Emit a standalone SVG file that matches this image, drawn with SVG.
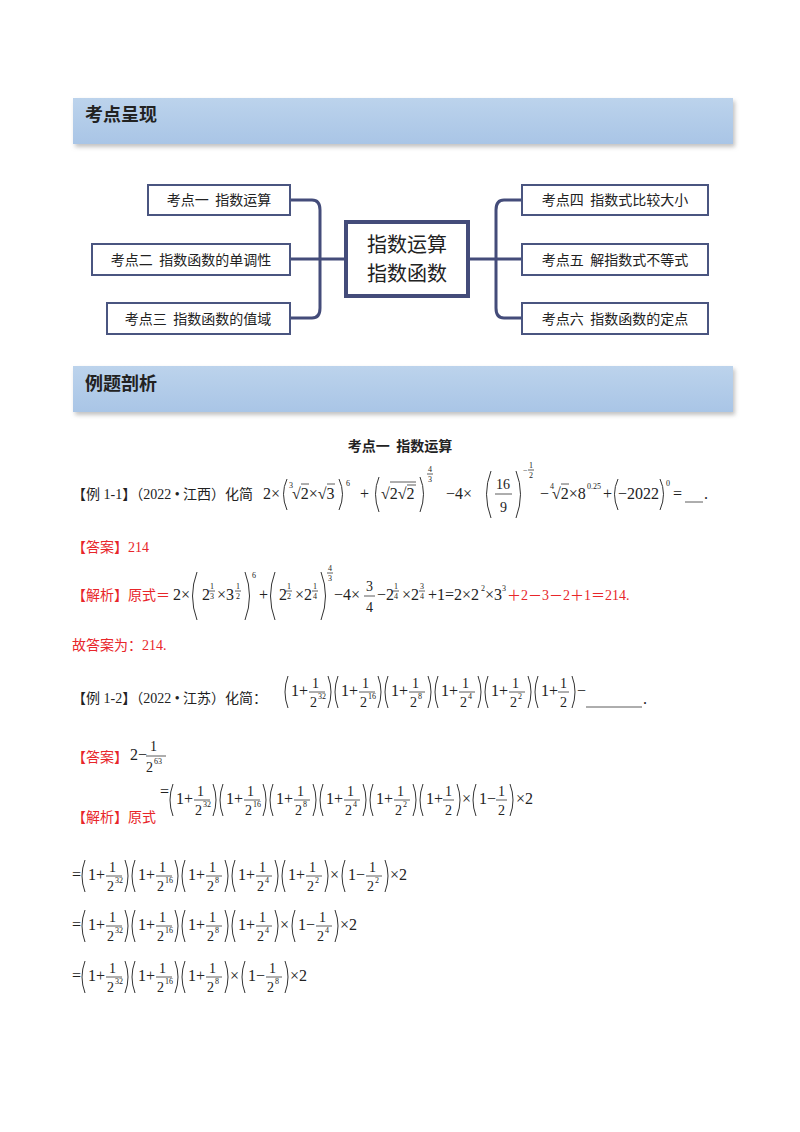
<svg xmlns="http://www.w3.org/2000/svg" xmlns:xlink="http://www.w3.org/1999/xlink" width="800" height="1132" viewBox="0 0 800 1132">
<style>
.cn{font-family:"Liberation Serif","Noto Sans CJK SC",serif;font-size:14px;fill:#222}
.b{font-family:"Noto Sans CJK SC",sans-serif;font-weight:bold}
.m{font-family:"Liberation Serif","Noto Sans CJK SC",serif;font-size:16px;fill:#222}
.s{font-family:"Liberation Serif",serif;font-size:8px;fill:#222}
.n{font-family:"Liberation Serif",serif;font-size:14px;fill:#222}
.r{fill:#e8262a}
.p{fill:none;stroke:#333;stroke-width:1}
.bar{stroke:#333;stroke-width:0.8}
.box{fill:#fff;stroke:#4a5580;stroke-width:2}
.bt{font-family:"Noto Sans CJK SC",sans-serif;font-size:14px;fill:#222;text-anchor:middle}
.ct{font-family:"Noto Sans CJK SC",sans-serif;font-size:20px;fill:#222;text-anchor:middle}
.con{fill:none;stroke:#444c7a;stroke-width:3}
</style>
<defs>
<linearGradient id="hg" x1="0" y1="0" x2="0" y2="1"><stop offset="0" stop-color="#bcd3ec"/><stop offset="1" stop-color="#a9c5e6"/></linearGradient>
<filter id="sh" x="-5%" y="-20%" width="110%" height="150%"><feDropShadow dx="2" dy="3" stdDeviation="2" flood-color="#999" flood-opacity="0.6"/></filter>
<g id="fp"><path class="p" d="M5,-20 Q-1,-4 5,12"/><text class="m" x="8" y="0">1+</text><text class="n" x="29" y="-8">1</text><line class="bar" x1="26" y1="-4" x2="42" y2="-4"/><text class="n" x="27" y="11">2</text><path class="p" d="M45,-20 Q51,-4 45,12"/></g>
<g id="fm"><path class="p" d="M5,-20 Q-1,-4 5,12"/><text class="m" x="8" y="0">1−</text><text class="n" x="29" y="-8">1</text><line class="bar" x1="26" y1="-4" x2="42" y2="-4"/><text class="n" x="27" y="11">2</text><path class="p" d="M45,-20 Q51,-4 45,12"/></g>
</defs>
<rect width="800" height="1132" fill="#fff"/>

<rect x="73" y="98" width="660" height="46" fill="url(#hg)" filter="url(#sh)"/>
<text x="85" y="121" class="b" font-size="18" fill="#222">考点呈现</text>

<g id="connectors">
<path class="con" d="M346,259 H320 M290,200 H312 Q320,200 320,210 V308 Q320,318 312,318 H290 M290,259 H320"/>
<path class="con" d="M468,259 H496 M522,200 H504 Q496,200 496,210 V308 Q496,318 504,318 H522 M522,259 H496"/>
</g>
<g id="center"><rect x="346" y="222" width="122" height="74" fill="#fff" stroke="#444c7a" stroke-width="4"/><text class="ct" x="407" y="252">指数运算</text><text class="ct" x="407" y="281">指数函数</text></g>
<g id="n1"><rect class="box" x="148" y="185" width="142" height="30"/><text class="bt" x="219" y="205" xml:space="preserve">考点一  指数运算</text></g>
<g id="n2"><rect class="box" x="92" y="244" width="198" height="31"/><text class="bt" x="191" y="265" xml:space="preserve">考点二  指数函数的单调性</text></g>
<g id="n3"><rect class="box" x="107" y="303" width="183" height="31"/><text class="bt" x="198" y="324" xml:space="preserve">考点三  指数函数的值域</text></g>
<g id="n4"><rect class="box" x="522" y="185" width="186" height="30"/><text class="bt" x="615" y="205" xml:space="preserve">考点四  指数式比较大小</text></g>
<g id="n5"><rect class="box" x="522" y="244" width="186" height="31"/><text class="bt" x="615" y="265" xml:space="preserve">考点五  解指数式不等式</text></g>
<g id="n6"><rect class="box" x="522" y="303" width="186" height="31"/><text class="bt" x="615" y="324" xml:space="preserve">考点六  指数函数的定点</text></g>

<rect x="73" y="366" width="660" height="46" fill="url(#hg)" filter="url(#sh)"/>
<text x="85" y="390" class="b" font-size="18" fill="#222">例题剖析</text>

<text x="400" y="451" class="b" font-size="14" fill="#222" text-anchor="middle" xml:space="preserve">考点一  指数运算</text>

<!-- Example 1-1 -->
<text class="cn" x="72" y="499">【例 1-1】（2022 • 江西）化简</text>
<text class="m" x="263" y="499">2×</text>
<path class="p" d="M287,479 Q280,494 287,510"/>
<text class="s" x="289" y="488">3</text>
<text class="m" x="292" y="499">√2×√3</text>
<line class="bar" x1="301" y1="484" x2="309" y2="484"/><line class="bar" x1="327" y1="484" x2="335" y2="484"/>
<path class="p" d="M339,479 Q346,494 339,510"/>
<text class="s" x="346" y="486">6</text>
<text class="m" x="360" y="499">+</text>
<path class="p" d="M379,477 Q372,494 379,512"/>
<text class="m" x="381" y="499">√2√2</text>
<line class="bar" x1="390" y1="482" x2="416" y2="482"/><line class="bar" x1="407" y1="485" x2="416" y2="485"/>
<path class="p" d="M420,477 Q427,494 420,512"/>
<text class="s" x="428" y="472">4</text><line class="bar" x1="427" y1="474" x2="433" y2="474"/><text class="s" x="428" y="482">3</text>
<text class="m" x="446" y="499">−4×</text>
<path class="p" d="M491,471 Q482,494 491,518"/>
<text class="n" x="496" y="489">16</text><line class="bar" x1="495" y1="494" x2="512" y2="494"/><text class="n" x="500" y="512">9</text>
<path class="p" d="M516,471 Q525,494 516,518"/>
<text class="s" x="523" y="473">−</text><text class="s" x="529" y="468">1</text><line class="bar" x1="528" y1="470" x2="534" y2="470"/><text class="s" x="529" y="478">2</text>
<text class="m" x="540" y="499">−</text><text class="s" x="550" y="489">4</text><text class="m" x="552" y="499">√2×8</text>
<line class="bar" x1="561" y1="484" x2="569" y2="484"/>
<text class="s" x="587" y="489">0.25</text>
<text class="m" x="603" y="499">+</text>
<path class="p" d="M618,479 Q611,494 618,510"/>
<text class="m" x="618" y="499">−2022</text>
<path class="p" d="M660,479 Q667,494 660,510"/>
<text class="s" x="666" y="486">0</text>
<text class="m" x="673" y="499">=</text>
<line class="bar" x1="685" y1="502" x2="703" y2="502"/>
<text class="m" x="704" y="499">.</text>

<text class="cn r" x="72" y="552">【答案】214</text>

<!-- 解析 1 -->
<text class="cn r" x="72" y="600">【解析】原式＝</text>
<text class="m" x="173" y="600">2×</text>
<path class="p" d="M197,572 Q188,596 197,620"/>
<text class="m" x="202" y="600">2</text><text class="s" x="210" y="589">1</text><line class="bar" x1="209" y1="591" x2="215" y2="591"/><text class="s" x="210" y="599">3</text>
<text class="m" x="217" y="600">×3</text><text class="s" x="236" y="589">1</text><line class="bar" x1="235" y1="591" x2="241" y2="591"/><text class="s" x="236" y="599">2</text>
<path class="p" d="M245,572 Q254,596 245,620"/>
<text class="s" x="252" y="578">6</text>
<text class="m" x="259" y="600">+</text>
<path class="p" d="M275,572 Q266,596 275,620"/>
<text class="m" x="279" y="600">2</text><text class="s" x="287" y="589">1</text><line class="bar" x1="286" y1="591" x2="292" y2="591"/><text class="s" x="287" y="599">2</text>
<text class="m" x="295" y="600">×2</text><text class="s" x="313" y="589">1</text><line class="bar" x1="312" y1="591" x2="318" y2="591"/><text class="s" x="313" y="599">4</text>
<path class="p" d="M321,572 Q330,596 321,620"/>
<text class="s" x="328" y="571">4</text><line class="bar" x1="327" y1="573" x2="333" y2="573"/><text class="s" x="328" y="581">3</text>
<text class="m" x="334" y="600">−4×</text>
<text class="n" x="366" y="591">3</text><line class="bar" x1="364" y1="596" x2="375" y2="596"/><text class="n" x="366" y="612">4</text>
<text class="m" x="377" y="600">−2</text><text class="s" x="394" y="589">1</text><line class="bar" x1="393" y1="591" x2="399" y2="591"/><text class="s" x="394" y="599">4</text>
<text class="m" x="402" y="600">×2</text><text class="s" x="420" y="589">3</text><line class="bar" x1="419" y1="591" x2="425" y2="591"/><text class="s" x="420" y="599">4</text>
<text class="m" x="428" y="600">+1=2×2</text><text class="s" x="481" y="591">2</text><text class="m" x="485" y="600">×3</text><text class="s" x="502" y="591">3</text>
<text class="cn r" x="507" y="600">＋2－3－2＋1＝214.</text>

<text class="cn r" x="72" y="650">故答案为：214.</text>

<!-- Example 1-2 -->
<text class="cn" x="72" y="703">【例 1-2】（2022 • 江苏）化简：</text>
<use xlink:href="#fp" x="283" y="696"/><text class="s" x="318" y="699">32</text>
<use xlink:href="#fp" x="333" y="696"/><text class="s" x="368" y="699">16</text>
<use xlink:href="#fp" x="383" y="696"/><text class="s" x="418" y="699">8</text>
<use xlink:href="#fp" x="433" y="696"/><text class="s" x="468" y="699">4</text>
<use xlink:href="#fp" x="483" y="696"/><text class="s" x="518" y="699">2</text>
<path class="p" d="M538,676 Q532,692 538,708"/><text class="m" x="541" y="696">1+</text><text class="n" x="560" y="688">1</text><line class="bar" x1="558" y1="692" x2="569" y2="692"/><text class="n" x="560" y="707">2</text><path class="p" d="M572,676 Q578,692 572,708"/>
<text class="m" x="577" y="696">−</text>
<line class="bar" x1="586" y1="707" x2="642" y2="707"/>
<text class="m" x="643" y="704">.</text>

<text class="cn r" x="72" y="762">【答案】</text>
<text class="m" x="130" y="760">2−</text>
<text class="n" x="150" y="751">1</text><line class="bar" x1="146" y1="756" x2="166" y2="756"/><text class="n" x="146" y="772">2</text><text class="s" x="154" y="764">63</text>

<!-- 解析 2 -->
<text class="cn r" x="72" y="822">【解析】原式</text>
<text class="m" x="160" y="797">=</text>
<use xlink:href="#fp" x="168" y="804"/><text class="s" x="203" y="807">32</text>
<use xlink:href="#fp" x="218" y="804"/><text class="s" x="253" y="807">16</text>
<use xlink:href="#fp" x="268" y="804"/><text class="s" x="303" y="807">8</text>
<use xlink:href="#fp" x="318" y="804"/><text class="s" x="353" y="807">4</text>
<use xlink:href="#fp" x="368" y="804"/><text class="s" x="403" y="807">2</text>
<path class="p" d="M423,784 Q417,800 423,816"/><text class="m" x="426" y="804">1+</text><text class="n" x="445" y="796">1</text><line class="bar" x1="443" y1="800" x2="454" y2="800"/><text class="n" x="445" y="815">2</text><path class="p" d="M457,784 Q463,800 457,816"/>
<text class="m" x="462" y="804">×</text>
<path class="p" d="M476,784 Q470,800 476,816"/><text class="m" x="479" y="804">1−</text><text class="n" x="498" y="796">1</text><line class="bar" x1="496" y1="800" x2="507" y2="800"/><text class="n" x="498" y="815">2</text><path class="p" d="M510,784 Q516,800 510,816"/>
<text class="m" x="516" y="804">×2</text>

<text class="m" x="72" y="880">=</text>
<use xlink:href="#fp" x="80" y="880"/><text class="s" x="115" y="883">32</text>
<use xlink:href="#fp" x="130" y="880"/><text class="s" x="165" y="883">16</text>
<use xlink:href="#fp" x="180" y="880"/><text class="s" x="215" y="883">8</text>
<use xlink:href="#fp" x="230" y="880"/><text class="s" x="265" y="883">4</text>
<use xlink:href="#fp" x="280" y="880"/><text class="s" x="315" y="883">2</text>
<text class="m" x="330" y="880">×</text>
<use xlink:href="#fm" x="340" y="880"/><text class="s" x="375" y="883">2</text>
<text class="m" x="390" y="880">×2</text>

<text class="m" x="72" y="930">=</text>
<use xlink:href="#fp" x="80" y="930"/><text class="s" x="115" y="933">32</text>
<use xlink:href="#fp" x="130" y="930"/><text class="s" x="165" y="933">16</text>
<use xlink:href="#fp" x="180" y="930"/><text class="s" x="215" y="933">8</text>
<use xlink:href="#fp" x="230" y="930"/><text class="s" x="265" y="933">4</text>
<text class="m" x="280" y="930">×</text>
<use xlink:href="#fm" x="290" y="930"/><text class="s" x="325" y="933">4</text>
<text class="m" x="340" y="930">×2</text>

<text class="m" x="72" y="981">=</text>
<use xlink:href="#fp" x="80" y="981"/><text class="s" x="115" y="984">32</text>
<use xlink:href="#fp" x="130" y="981"/><text class="s" x="165" y="984">16</text>
<use xlink:href="#fp" x="180" y="981"/><text class="s" x="215" y="984">8</text>
<text class="m" x="230" y="981">×</text>
<use xlink:href="#fm" x="240" y="981"/><text class="s" x="275" y="984">8</text>
<text class="m" x="290" y="981">×2</text>
</svg>
